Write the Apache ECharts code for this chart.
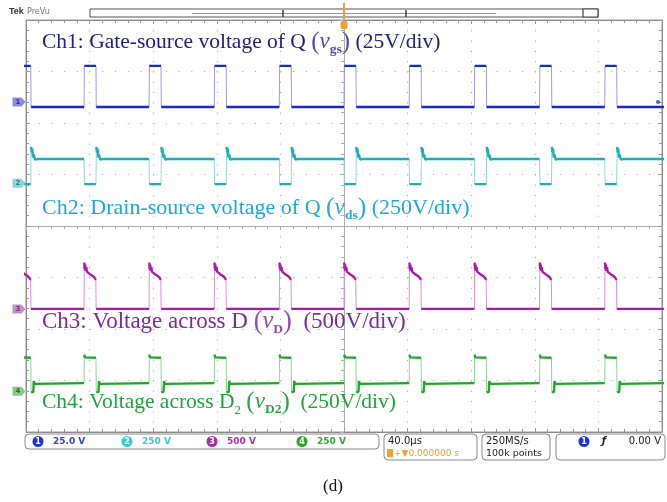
<!DOCTYPE html>
<html>
<head>
<meta charset="utf-8">
<script src="https://cdn.jsdelivr.net/npm/echarts@6/dist/echarts.min.js"></script>
<style>html,body{margin:0;padding:0;background:#fff}#c{width:667px;height:502px}</style>
</head>
<body>
<div id="c"></div>
<script>
// ---- time base: 40 µs/div, 10 divisions, trigger (t = 0) at centre ----
const timeMin = -200, timeMax = 200, timeDiv = 40;
// switching instants of Q (µs)
const riseTimes = [-204.5, -163.5, -122.6, -81.6, -40.7, 0, 41.0, 82.0, 123.0, 164.0, 205.0];
const fallTimes = [-197.0, -156.0, -115.1, -74.1, -33.2, 7.5, 48.5, 89.5, 130.5, 171.5, 212.5];

// ---- channel settings (V/div, ground offset in divisions) ----
const channelNames   = ['Ch1', 'Ch2', 'Ch3', 'Ch4'];
const channelScales  = [25, 250, 500, 250];
const channelOffsets = [2.41, 0.83, -1.61, -3.21];

// ---- waveform shapes: [time after edge (µs), volts] ----
const ch1Rise = [[0, -2.5], [0.2, 17.5]];
const ch1Fall = [[0, 17.5], [0.2, -2.5]];
const ch2Rise = [[0, 118], [0.2, -4]];
const ch2Fall = [[0, -4], [0.25, 176], [0.6, 150], [1.0, 168], [1.4, 125], [1.9, 140], [2.6, 115], [3.4, 120], [4.5, 118]];
const ch3Rise = [[0, 0], [0.15, 450], [0.4, 385], [0.7, 430], [1.0, 370], [1.4, 405], [1.8, 362], [2.5, 352], [3.5, 340], [5.0, 325], [6.5, 305]];
const ch3Fall = [[-0.1, 282], [0.1, 0]];
const ch4Rise = [[0, 40], [0.15, 178], [0.6, 165]];
const ch4Fall = [[0, 163], [0.2, -5], [1.6, -3], [1.9, 50], [2.4, 36], [3.0, 40]];

const traceShapes = [[ch1Rise, ch1Fall], [ch2Rise, ch2Fall], [ch3Rise, ch3Fall], [ch4Rise, ch4Fall]];
const traceDark  = ['#1a2ac4', '#22adb4', '#a81aa8', '#22a62e'];
const traceLight = ['#9a9ae6', '#8fd6da', '#dc8ddc', '#8cd494'];
const markerFill = ['#7272d6', '#6ccccc', '#b474b4', '#6cbc6c'];
const markerText = ['#1c1c90', '#137070', '#641264', '#136013'];

function buildTrace(riseShape, fallShape) {
  const thin = [], thick = [];
  const add = (shape, t0) => shape.forEach((p, i) => {
    const pt = [t0 + p[0], p[1]];
    thin.push(pt);
    if (i === 1) thick.push(['-', '-']);
    thick.push(pt);
  });
  for (let k = 0; k < riseTimes.length; k++) {
    add(riseShape, riseTimes[k]);
    add(fallShape, fallTimes[k]);
  }
  return { thin, thick };
}

const chart = echarts.init(document.getElementById('c'), null, { renderer: 'canvas' });

const grey = '#ababab';
const dotCol = '#a6a6a6';
const xAxes = [
  { type: 'value', min: timeMin, max: timeMax, interval: timeDiv, position: 'bottom',
    axisLine: { show: true, onZero: true, onZeroAxisIndex: 0, lineStyle: { color: grey, width: 1 } },
    axisTick: { show: true, length: 4, lineStyle: { color: grey } },
    minorTick: { show: true, splitNumber: 5, length: 3, lineStyle: { color: grey } },
    axisLabel: { show: false },
    splitLine: { show: true, lineStyle: { color: dotCol, width: 1, type: [1, 9.3] } } },
  { type: 'value', min: timeMin, max: timeMax, interval: timeDiv, position: 'top',
    axisLine: { show: true, onZero: false, lineStyle: { color: '#8c8c8c', width: 1 } },
    axisTick: { show: true, inside: true, length: 4, lineStyle: { color: '#999' } },
    minorTick: { show: true, splitNumber: 5, length: 3, lineStyle: { color: '#999' } },
    axisLabel: { show: false }, splitLine: { show: false } },
  { type: 'value', min: timeMin, max: timeMax, interval: timeDiv, position: 'bottom',
    axisLine: { show: true, onZero: false, lineStyle: { color: '#8c8c8c', width: 1 } },
    axisTick: { show: true, inside: true, length: 4, lineStyle: { color: '#999' } },
    minorTick: { show: true, splitNumber: 5, length: 3, lineStyle: { color: '#999' } },
    axisLabel: { show: false }, splitLine: { show: false } }
];
const yAxes = [
  { type: 'value', min: -4, max: 4, interval: 1, position: 'left',
    axisLine: { show: true, onZero: true, onZeroAxisIndex: 0, lineStyle: { color: grey, width: 1 } },
    axisTick: { show: true, length: 4, lineStyle: { color: grey } },
    minorTick: { show: true, splitNumber: 5, length: 3, lineStyle: { color: grey } },
    axisLabel: { show: false },
    splitLine: { show: true, lineStyle: { color: dotCol, width: 1, type: [1, 11.72] } } },
  { type: 'value', min: -4, max: 4, interval: 1, position: 'right',
    axisLine: { show: true, onZero: false, lineStyle: { color: '#8c8c8c' } },
    axisTick: { show: true, inside: true, length: 4, lineStyle: { color: '#999' } },
    minorTick: { show: true, splitNumber: 5, length: 3, lineStyle: { color: '#999' } },
    axisLabel: { show: false }, splitLine: { show: false } },
  { type: 'value', min: -4, max: 4, interval: 1, position: 'left',
    axisLine: { show: true, onZero: false, lineStyle: { color: '#8c8c8c' } },
    axisTick: { show: true, inside: true, length: 4, lineStyle: { color: '#999' } },
    minorTick: { show: true, splitNumber: 5, length: 3, lineStyle: { color: '#999' } },
    axisLabel: { show: false }, splitLine: { show: false } }
];
channelScales.forEach((s, i) => {
  yAxes.push({ type: 'value', show: false, position: 'left',
    min: (-4 - channelOffsets[i]) * s, max: (4 - channelOffsets[i]) * s,
    axisLine: { onZero: false }, splitLine: { show: false } });
});

const series = [];
traceShapes.forEach((sh, i) => {
  const tr = buildTrace(sh[0], sh[1]);
  series.push({ type: 'line', yAxisIndex: 3 + i, data: tr.thin, showSymbol: false, symbol: 'none',
    lineStyle: { color: traceLight[i], width: 1 }, animation: false, silent: true, z: 3 });
  series.push({ type: 'line', yAxisIndex: 3 + i, data: tr.thick, showSymbol: false, symbol: 'none',
    connectNulls: false, lineStyle: { color: traceDark[i], width: 2.4 }, animation: false, silent: true, z: 4 });
  series.push({ type: 'scatter', yAxisIndex: 3 + i, data: [[timeMin, 0]], clip: false,
    symbol: 'path://M0,0H9L13,5L9,10H0Z', symbolSize: [13, 9], symbolOffset: [-7, 0],
    itemStyle: { color: markerFill[i] },
    label: { show: true, position: 'inside', formatter: String(i + 1), fontSize: 7, fontWeight: 'bold',
      color: markerText[i], offset: [-1, 0], fontFamily: 'DejaVu Sans' },
    animation: false, silent: true, z: 6 });
});
// channel-1 reference dot at right edge
series.push({ type: 'scatter', yAxisIndex: 3, data: [[timeMax, 0]], clip: false, symbol: 'circle',
  symbolSize: 4, symbolOffset: [-4, 0], itemStyle: { color: '#2a3ad0' }, animation: false, silent: true, z: 6 });

function makeTitle(parts, top, main, vcol, fs) {
  return {
    left: 42, top: top, padding: 0,
    text: parts,
    textStyle: {
      fontWeight: 'normal',
      rich: {
        a: { fontFamily: 'Liberation Serif', fontWeight: 'normal', fontSize: fs, color: main, lineHeight: 30, verticalAlign: 'middle' },
        sa: { fontFamily: 'Liberation Serif', fontWeight: 'normal', fontSize: 13, color: main, lineHeight: 22, verticalAlign: 'bottom' },
        p: { fontFamily: 'Liberation Serif', fontWeight: 'normal', fontSize: fs + 3.5, color: vcol, lineHeight: 30, verticalAlign: 'middle' },
        v: { fontFamily: 'Liberation Serif', fontWeight: 'normal', fontStyle: 'italic', fontSize: fs + 1.5, color: vcol, lineHeight: 30, verticalAlign: 'middle' },
        s: { fontFamily: 'Liberation Serif', fontWeight: 'bold', fontSize: 13.5, color: vcol, lineHeight: 22, verticalAlign: 'bottom' }
      }
    }
  };
}

const titles = [
  makeTitle('{a|Ch1: Gate-source voltage of Q }{p|(}{v|v}{s|gs}{p|)}{a| (25V/div)}', 27, '#1f2080', '#5a48b6', 21.5),
  makeTitle('{a|Ch2: Drain-source voltage of Q }{p|(}{v|v}{s|ds}{p|)}{a| (250V/div)}', 193, '#1ea6e0', '#2aa8e0', 22),
  makeTitle('{a|Ch3: Voltage across D }{p|(}{v|v}{s|D}{p|)}{a|  (500V/div)}', 307, '#7b2a9c', '#8e4cb0', 23),
  makeTitle('{a|Ch4: Voltage across D}{sa|2}{a| }{p|(}{v|v}{s|D2}{p|)}{a|  (250V/div)}', 387, '#1ea53c', '#27a845', 21.5)
];

function txt(x, y, text, font, fill, align) {
  return { type: 'text', x: x, y: y, silent: true, z: 10,
    style: { text: text, font: font, fill: fill, align: align || 'left', textAlign: align || 'left',
      verticalAlign: 'middle', textVerticalAlign: 'middle' } };
}
function box(x, y, w, h) {
  return { type: 'rect', shape: { x: x, y: y, width: w, height: h, r: 4 }, silent: true, z: 9,
    style: { fill: '#fff', stroke: '#8a8a8a', lineWidth: 1 } };
}
function badge(cx, cy, col, n) {
  return [
    { type: 'circle', shape: { cx: cx, cy: cy, r: 5.5 }, silent: true, z: 10, style: { fill: col } },
    txt(cx, cy + 0.5, n, 'bold 8px "DejaVu Sans"', '#fff', 'center')
  ];
}

const badgeCols = ['#2232d2', '#38cdd2', '#a22ea6', '#2aa62a'];
const statusVals = ['25.0 V', '250 V', '500 V', '250 V'];
const statusValCols = ['#3444d8', '#3cc8d0', '#a434aa', '#34aa34'];
const badgeX = [38, 127, 212, 302];

const graphics = [
  // top bar
  txt(9, 12, 'Tek', 'bold 9px "Liberation Sans"', '#333'),
  txt(27, 12, 'PreVu', '8px "DejaVu Sans"', '#777'),
  { type: 'rect', shape: { x: 90, y: 9, width: 508, height: 8 }, silent: true, z: 9,
    style: { fill: '#fff', stroke: '#555', lineWidth: 1 } },
  { type: 'rect', shape: { x: 583, y: 9, width: 15, height: 8 }, silent: true, z: 9,
    style: { fill: '#fff', stroke: '#444', lineWidth: 1.2 } },
  { type: 'line', shape: { x1: 192, y1: 13.5, x2: 496, y2: 13.5 }, silent: true, z: 10, style: { stroke: '#52c852', lineWidth: 1 } },
  { type: 'line', shape: { x1: 283, y1: 10, x2: 283, y2: 17 }, silent: true, z: 10, style: { stroke: '#333', lineWidth: 1.4 } },
  { type: 'line', shape: { x1: 406, y1: 10, x2: 406, y2: 17 }, silent: true, z: 10, style: { stroke: '#333', lineWidth: 1.4 } },
  { type: 'line', shape: { x1: 344, y1: 3, x2: 344, y2: 20 }, silent: true, z: 11, style: { stroke: '#f0a030', lineWidth: 2 } },
  { type: 'rect', shape: { x: 340.5, y: 21, width: 7, height: 8, r: 2 }, silent: true, z: 11, style: { fill: '#f0a030' } },
  txt(344, 25.5, 'T', 'bold 6px "DejaVu Sans"', '#fff', 'center'),
  // status bar
  box(25, 434, 354, 15),
  box(384, 434, 93, 26),
  box(482, 434, 68, 26),
  box(556, 434, 109, 26),
  txt(388, 441.5, '40.0µs', '10px "DejaVu Sans"', '#222'),
  { type: 'rect', shape: { x: 387, y: 449, width: 6, height: 8, r: 1 }, silent: true, z: 10, style: { fill: '#eea028' } },
  txt(394, 453.5, '+▼0.000000 s', '9px "DejaVu Sans"', '#eea028'),
  txt(486, 441.5, '250MS/s', '10px "DejaVu Sans"', '#222'),
  txt(486, 453.5, '100k points', '9.5px "DejaVu Sans"', '#222'),
  txt(604, 441.5, 'ƒ', 'bold italic 10px "DejaVu Sans"', '#222', 'center'),
  txt(661, 441.5, '0.00 V', '10px "DejaVu Sans"', '#222', 'right'),
  // caption
  txt(333, 487, '(d)', '17px "Liberation Serif"', '#111', 'center')
];
badgeX.forEach((bx, i) => {
  graphics.push(...badge(bx, 441.5, badgeCols[i], String(i + 1)));
  graphics.push(txt(bx + 15, 441.5, statusVals[i], 'bold 9px "DejaVu Sans"', statusValCols[i]));
});
graphics.push(...badge(584, 441.5, badgeCols[0], '1'));

chart.setOption({
  animation: false,
  backgroundColor: '#fff',
  title: titles,
  grid: { left: 26, right: 5, top: 20, bottom: 70, show: true, borderColor: '#9a9a9a', borderWidth: 1, containLabel: false },
  xAxis: xAxes,
  yAxis: yAxes,
  series: series,
  graphic: { elements: graphics }
});
</script>
</body>
</html>
